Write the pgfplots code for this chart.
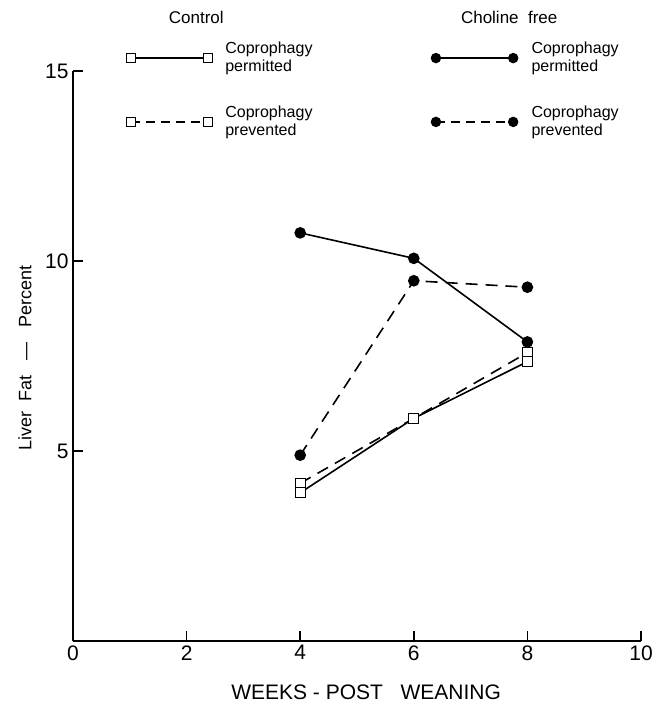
\documentclass[border=0pt]{standalone}
\usepackage{pgfplots}
\pgfplotsset{compat=1.18}
\usepackage{fontspec}
\setmainfont{Liberation Sans}
\begin{document}
\begin{tikzpicture}[x=1pt,y=1pt]
\useasboundingbox (-73,-69) rectangle (584,641);
\begin{axis}[
  at={(0,0)}, anchor=south west,
  scale only axis, width=568pt, height=570pt,
  xmin=0, xmax=10, ymin=0, ymax=15,
  axis x line=bottom, axis y line=left,
  axis line style={-, line width=1.8pt},
  xtick={0,2,4,6,8,10}, ytick={5,10,15},
  tick align=inside, major tick length=10pt,
  tick style={line width=1.5pt, black},
  clip=false,
  /pgf/number format/assume math mode=true,
  tick label style={font=\fontsize{21}{24}\selectfont},
  xticklabel style={yshift=-1pt},
  yticklabel style={xshift=-1pt},
  xlabel={WEEKS\ -\ POST\ \ \ WEANING},
  xlabel style={at={(axis description cs:0.516,0)}, anchor=center, yshift=-51pt, font=\fontsize{21}{24}\selectfont},
  ylabel={Liver\ \ Fat\ \ \ —\ \ \ Percent},
  ylabel style={at={(axis description cs:-0.0845,0.497)}, anchor=center, font=\fontsize{18}{21}\selectfont},
]
% Choline free, coprophagy permitted
\addplot[black, line width=1.6pt, mark=*, mark size=5pt] coordinates {(4,10.74)(6,10.07)(8,7.87)};
% Choline free, coprophagy prevented
\addplot[black, line width=1.6pt, dash pattern=on 12pt off 8pt, mark=*, mark size=5pt, mark options={solid}] coordinates {(4,4.89)(6,9.48)(8,9.31)};
% Control, coprophagy prevented
\addplot[black, line width=1.6pt, dash pattern=on 12pt off 8pt, mark=square*, mark size=5pt, mark options={solid, fill=white, line width=1.2pt}] coordinates {(4,4.15)(6,5.86)(8,7.59)};
% Control, coprophagy permitted
\addplot[black, line width=1.6pt, mark=square*, mark size=5pt, mark options={solid, fill=white, line width=1.2pt}] coordinates {(4,3.90)(6,5.86)(8,7.35)};
% legend samples
\addplot[black, line width=1.4pt, mark=square*, mark size=4.5pt, mark options={solid, fill=white, line width=1.1pt}] coordinates {(1.02,15.34)(2.38,15.34)};
\addplot[black, line width=1.4pt, dash pattern=on 9pt off 6pt, mark=square*, mark size=4.5pt, mark options={solid, fill=white, line width=1.1pt}] coordinates {(1.02,13.66)(2.38,13.66)};
\addplot[black, line width=1.4pt, mark=*, mark size=4.5pt] coordinates {(6.39,15.34)(7.75,15.34)};
\addplot[black, line width=1.4pt, dash pattern=on 9pt off 6pt, mark=*, mark size=4.5pt, mark options={solid}] coordinates {(6.39,13.66)(7.75,13.66)};
\node[font=\fontsize{17}{20}\selectfont] at (axis cs:2.17,16.42) {Control};
\node[font=\fontsize{17}{20}\selectfont] at (axis cs:7.68,16.42) {Choline\ \ free};
\node[anchor=west, align=left, font=\fontsize{16}{18}\selectfont] at (axis cs:2.62,15.32) {Coprophagy\\permitted};
\node[anchor=west, align=left, font=\fontsize{16}{18}\selectfont] at (axis cs:2.62,13.64) {Coprophagy\\prevented};
\node[anchor=west, align=left, font=\fontsize{16}{18}\selectfont] at (axis cs:8.01,15.32) {Coprophagy\\permitted};
\node[anchor=west, align=left, font=\fontsize{16}{18}\selectfont] at (axis cs:8.01,13.64) {Coprophagy\\prevented};
\end{axis}
\end{tikzpicture}
\end{document}
